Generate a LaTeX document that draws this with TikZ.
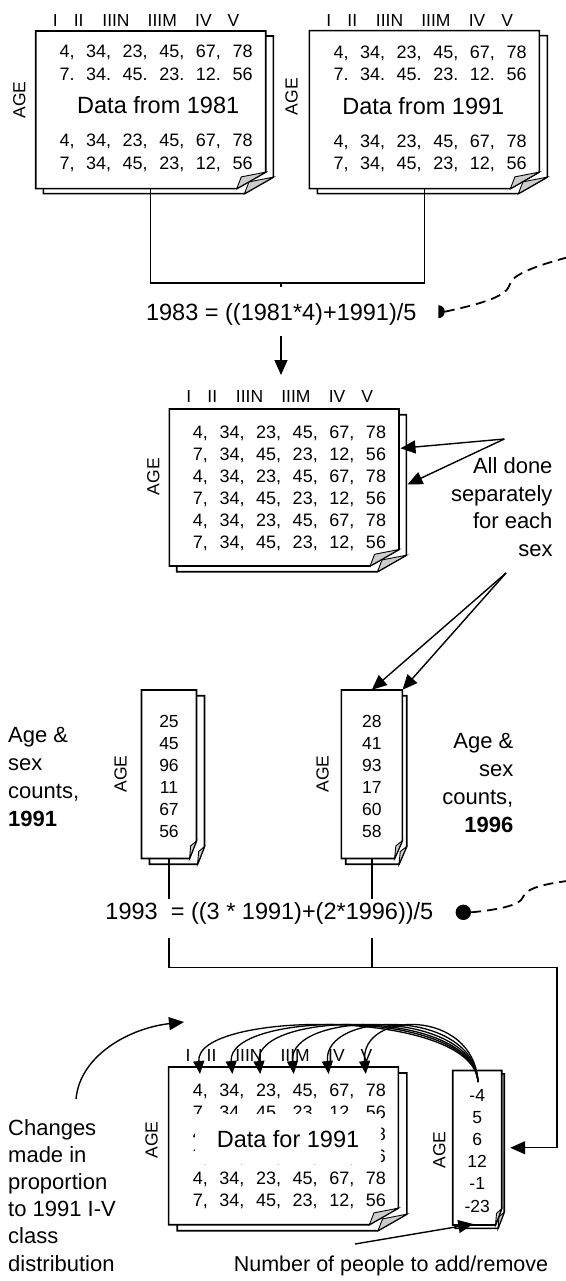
\documentclass[tikz,border=0pt]{standalone}
\usepackage{fontspec}
\setmainfont{Liberation Sans}
\usetikzlibrary{arrows.meta}

% one sheet of paper with a dog-eared bottom-right corner: left, top, width, height
\newcommand\docsheet[4]{%
  \draw[sheet] (#1,#2) -- ++(#3,0) -- ++(0,{0.895*#4}) -- ++({-0.126*#3},{0.105*#4}) -- ++({-0.874*#3},0) -- cycle;
  \draw[flap] ({#1+0.874*#3},{#2+#4}) -- ++({0.02*#3},{-0.075*#4}) -- ({#1+#3},{#2+0.895*#4}) -- cycle;
}
% a stack of two sheets; the named node covers the front sheet
% name, left, top, width, height, back-sheet dx, back-sheet dy
\newcommand\docstack[7]{%
  \docsheet{#2+#6}{#3+#7}{#4}{#5}
  \docsheet{#2}{#3}{#4}{#5}
  \node[inner sep=0pt, minimum width=#4pt, minimum height=#5pt] (#1) at ({#2+#4/2},{#3+#5/2}) {};
}
% social class headings over a data sheet: name prefix, sheet left, y
\newcommand\classrow[3]{%
  \foreach \hname/\hoff [count=\hk] in {I/19.5,II/43,IIIN/80.3,IIIM/126.6,IV/167.8,V/197.8}
    {\node[hdr] (#1\hk) at ({#2+\hoff},#3) {\hname};}
}
\newcommand\datA{4, 34, 23, 45, 67, 78}
\newcommand\datB{7, 34, 45, 23, 12, 56}
\newcommand\datC{7. 34. 45. 23. 12. 56}

\begin{document}
\begin{tikzpicture}[x=1pt, y=-1pt,
  sheet/.style={draw, fill=white, line width=1.6pt},
  flap/.style={draw, fill=gray!40, line width=0.9pt},
  conn/.style={line width=1.4pt},
  arr/.style={conn, -{Triangle[length=15pt,width=13pt]}},
  carr/.style={line width=1.3pt, -{Triangle[length=13pt,width=11pt]}},
  dashlink/.style={line width=1.8pt, dash pattern=on 10pt off 6pt},
  hdr/.style={inner sep=0pt, font={\fontsize{17.5}{21}\selectfont}},
  age/.style={inner sep=0pt, rotate=90, font={\fontsize{17.5}{21}\selectfont}},
  row/.style={inner sep=0pt, anchor=west, text height=12.9pt, text depth=0pt,
    font={\fontsize{18}{21}\selectfont\frenchspacing\spaceskip=11.6pt\relax}},
  cnt/.style={inner sep=0pt, font={\fontsize{17.5}{20}\selectfont}},
  big/.style={inner sep=0pt, font={\fontsize{23.5}{28}\selectfont}},
  lbl/.style={inner sep=0pt, font={\fontsize{22}{27.8}\selectfont}},
]
\useasboundingbox (0,0) rectangle (565,1281);
\fill[white] (0,0) rectangle (565,1281);

% ---------- 1981 and 1991 data ----------
\docstack{d1}{35.7}{31}{230}{157.7}{7.7}{5}
\classrow{d1h}{35.7}{20.3}
\node[age] (d1age) at (19.3,100) {AGE};
\node[row] (d1r1) at (59.3,51) {\datA};
\node[row] (d1r2) at (59.3,74) {\datC};
\node[big] (d1lab) at (158.2,105) {Data from 1981};
\node[row] (d1r3) at (59.3,140.5) {\datA};
\node[row] (d1r4) at (59.3,163) {\datB};

\docstack{d2}{309.3}{30.7}{230}{158}{8}{5}
\classrow{d2h}{309.3}{20.3}
\node[age] (d2age) at (291.7,96.7) {AGE};
\node[row] (d2r1) at (333.3,52) {\datA};
\node[row] (d2r2) at (333.3,74) {\datC};
\node[big] (d2lab) at (423.3,106) {Data from 1991};
\node[row] (d2r3) at (333.3,141.5) {\datA};
\node[row] (d2r4) at (333.3,163) {\datB};

% interpolation to 1983
\coordinate (j1) at (281,283);
\coordinate (j1b) at (281,287);
\draw[conn] (d1.south) |- (j1) -| (d2.south);
\draw[conn] (j1) -- (j1b);
\node[big, anchor=base] (f1) at (281.3,320.2) {1983 = ((1981*4)+1991)/5};
\coordinate (p1) at (438.3,311.7);
\fill (p1) ++(0,-6.5) arc[start angle=-90, end angle=90, radius=6.5] -- cycle;
\draw[dashlink] ([xshift=6.5pt]p1) .. controls (485,303) and (507,296) .. (510,284)
  .. controls (512,275) and (535,266) .. (567,257.5);
\coordinate (a1s) at (281,336);
\coordinate (a1e) at (281,375);
\draw[arr] (a1s) -- (a1e);

% ---------- 1983 estimate ----------
\docstack{d3}{169.3}{409}{229.7}{157}{7.4}{5.7}
\classrow{d3h}{169.3}{396.7}
\node[age] (d3age) at (153.3,476.7) {AGE};
\foreach \rt [count=\ri] in {\datA,\datB,\datA,\datB,\datA,\datB}
  {\node[row] (d3r\ri) at (192.7,{409.6+22.1*\ri}) {\rt};}

\node[lbl, anchor=base east] (sep1) at (552.7,473.3) {All done};
\node[lbl, anchor=base east] (sep2) at (552.7,501.1) {separately};
\node[lbl, anchor=base east] (sep3) at (552.7,528.9) {for each};
\node[lbl, anchor=base east] (sep4) at (552.7,556.7) {sex};
\coordinate (ads) at (504.3,439);
\coordinate (adt1) at (400.5,448.3);
\coordinate (adt2) at (407.5,484.5);
\draw[arr] (ads) -- (adt1);
\draw[arr] (ads) -- (adt2);
\coordinate (bds) at (506,573);

% ---------- 1991 and 1996 age & sex counts ----------
\docstack{n1}{141.5}{690}{55}{168.5}{8}{5.7}
\docstack{n2}{341.3}{690}{61}{168.5}{4.4}{5.7}
\node[age] (n1age) at (120.7,774) {AGE};
\node[age] (n2age) at (322.5,774) {AGE};
\foreach \va/\vb [count=\ri] in {25/28,45/41,96/93,11/17,67/60,56/58}
  {\node[cnt] (n1v\ri) at (n1.center |- 0,{698.9+22.1*\ri}) {\va};
   \node[cnt] (n2v\ri) at (n2.center |- 0,{698.9+22.1*\ri}) {\vb};}
\draw[arr] (bds) -- (n2.north);
\draw[arr] (bds) -- (n2.north east);

\node[lbl, anchor=base west] (ca1) at (8,742.9) {Age \&};
\node[lbl, anchor=base west] (ca2) at (8,770.7) {sex};
\node[lbl, anchor=base west] (ca3) at (8,798.5) {counts,};
\node[lbl, anchor=base west] (ca4) at (8,826.3) {\textbf{1991}};
\node[lbl, anchor=base east] (cb1) at (513.5,748.8) {Age \&};
\node[lbl, anchor=base east] (cb2) at (513.5,776.6) {sex};
\node[lbl, anchor=base east] (cb3) at (513.5,804.4) {counts,};
\node[lbl, anchor=base east] (cb4) at (513.5,832.2) {\textbf{1996}};

% interpolation to 1993
\draw[conn] (n1.south) -- (n1.south |- 0,899);
\draw[conn] (n2.south) -- (n2.south |- 0,899);
\node[big, anchor=base] (f2) at (269.4,919.5) {1993\ \ = ((3 * 1991)+(2*1996))/5};
\node[circle, fill, inner sep=0pt, minimum size=15.4pt] (p2) at (463.3,912.3) {};
\draw[dashlink] (p2.east) .. controls (495,910) and (520,906) .. (523,897)
  .. controls (526,888) and (545,884) .. (567,881);

% ---------- 1991 data adjusted ----------
\docstack{n4}{452.7}{1070.5}{49}{154.5}{2.5}{3.3}
\node[age] (n4age) at (439.3,1150) {AGE};
\foreach \vc [count=\ri] in {-4,5,6,12,-1,-23}
  {\node[cnt] (n4v\ri) at (n4.center |- 0,{1072.8+22.2*\ri}) {\vc};}

\coordinate (cr) at (557,967.5);
\draw[arr] (n1.south |- 0,937.5) |- (cr) |- ([xshift=8.3pt]n4.east);
\draw[conn] (n2.south |- 0,937.5) -- (n2.south |- cr);

\docstack{d5}{168.6}{1067}{229.7}{157.7}{8.6}{6}
\classrow{d5h}{168.6}{1055.5}
\node[age] (d5age) at (151.5,1140) {AGE};
\foreach \rt [count=\ri] in {\datA,\datB,\datA,\datB,\datA,\datB}
  {\node[row] (d5r\ri) at (192.6,{1067.6+22.1*\ri}) {\rt};}
\node[big, fill=white, inner xsep=21.8pt, inner ysep=16pt] (d5lab) at (288,1139) {Data for 1991};

% redistribution over the classes
\coordinate (cs) at (478,1082);
\foreach \tx [count=\ti] in {200,232.4,260.2,293.7,328.6,365.8}
  {\coordinate (tip\ti) at (\tx,1074);
   \draw[carr] (cs) .. controls (474,1008) and ({\tx-6},1010) .. (tip\ti);}

\node[lbl, anchor=base west] (ch1) at (8,1135.5) {Changes};
\node[lbl, anchor=base west] (ch2) at (8,1162.6) {made in};
\node[lbl, anchor=base west] (ch3) at (8,1189.7) {proportion};
\node[lbl, anchor=base west] (ch4) at (8,1216.8) {to 1991 I-V};
\node[lbl, anchor=base west] (ch5) at (8,1243.9) {class};
\node[lbl, anchor=base west] (ch6) at (8,1271) {distribution};
\coordinate (cg) at (76,1099);
\coordinate (ct) at (184,1022);
\draw[carr, line width=1.4pt, -{Triangle[length=15pt,width=13pt]}] (cg) .. controls (80,1055) and (130,1028) .. (ct);

\node[lbl, anchor=base, font={\fontsize{21.5}{26}\selectfont}] (np) at (391,1271) {Number of people to add/remove};
\coordinate (nps) at (355,1244);
\coordinate (npt) at (473.3,1224);
\draw[arr] (nps) -- (npt);
\end{tikzpicture}
\end{document}
